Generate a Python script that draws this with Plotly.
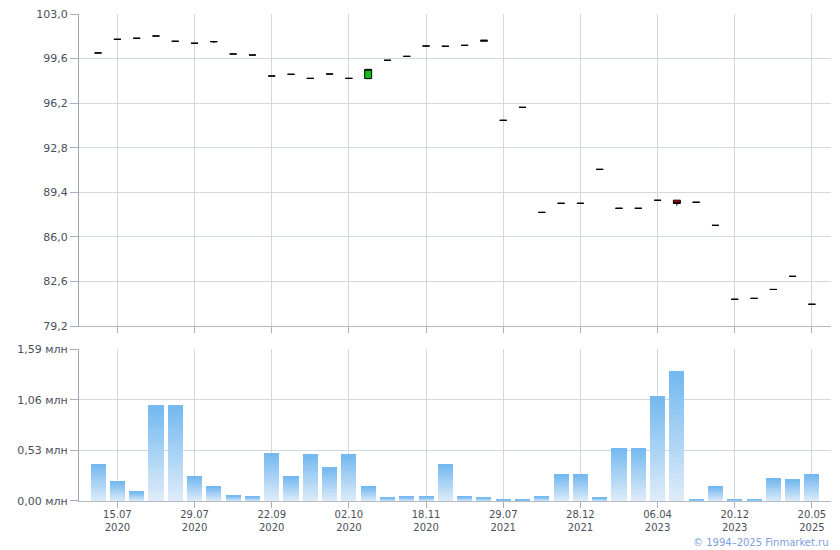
import plotly.graph_objects as go

# ---- data ----
dates = ["08.07<br>2020", "15.07<br>2020", "17.07<br>2020", "21.07<br>2020", "23.07<br>2020",
         "29.07<br>2020", "05.08<br>2020", "19.08<br>2020", "02.09<br>2020", "22.09<br>2020",
         "24.09<br>2020", "28.09<br>2020", "30.09<br>2020", "02.10<br>2020", "09.10<br>2020",
         "21.10<br>2020", "03.11<br>2020", "18.11<br>2020", "02.12<br>2020", "28.12<br>2020",
         "15.03<br>2021", "29.07<br>2021", "13.09<br>2021", "18.10<br>2021", "19.11<br>2021",
         "28.12<br>2021", "14.03<br>2022", "18.10<br>2022", "20.01<br>2023", "06.04<br>2023",
         "19.05<br>2023", "11.07<br>2023", "25.10<br>2023", "20.12<br>2023", "07.03<br>2024",
         "10.09<br>2024", "18.02<br>2025", "20.05<br>2025"]

open_ = [100.03, 101.07, 101.15, 101.32, 100.92, 100.77, 100.89, 99.95, 99.87, 98.27,
         98.40, 98.09, 98.42, 98.09, 98.07, 99.47, 99.77, 100.56, 100.54, 100.61,
         100.92, 94.89, 95.88, 87.87, 88.56, 88.56, 91.15, 88.18, 88.18, 88.79,
         88.80, 88.64, 86.88, 81.24, 81.31, 81.99, 82.99, 80.86]
high_ = [100.03, 101.07, 101.15, 101.32, 100.92, 100.77, 100.89, 99.95, 99.87, 98.27,
         98.40, 98.09, 98.42, 98.09, 98.78, 99.47, 99.77, 100.56, 100.54, 100.61,
         101.00, 94.89, 95.88, 87.87, 88.56, 88.56, 91.15, 88.18, 88.18, 88.79,
         88.80, 88.64, 86.88, 81.24, 81.31, 81.99, 82.99, 80.86]
low_ = [100.03, 101.07, 101.15, 101.32, 100.92, 100.77, 100.78, 99.95, 99.87, 98.27,
        98.40, 98.09, 98.42, 98.09, 98.07, 99.47, 99.77, 100.56, 100.54, 100.61,
        100.92, 94.89, 95.88, 87.87, 88.56, 88.56, 91.15, 88.18, 88.18, 88.79,
        88.38, 88.64, 86.88, 81.24, 81.31, 81.99, 82.99, 80.86]
close_ = [100.03, 101.07, 101.15, 101.32, 100.92, 100.77, 100.89, 99.95, 99.87, 98.27,
          98.40, 98.09, 98.42, 98.09, 98.78, 99.47, 99.77, 100.56, 100.54, 100.61,
          101.00, 94.89, 95.88, 87.87, 88.56, 88.56, 91.15, 88.18, 88.18, 88.79,
          88.55, 88.64, 86.88, 81.24, 81.31, 81.99, 82.99, 80.86]

volume_mln = [0.389, 0.201, 0.097, 1.005, 1.005, 0.254, 0.149, 0.055, 0.045, 0.504,
              0.254, 0.49, 0.35, 0.49, 0.15, 0.035, 0.045, 0.045, 0.39, 0.045,
              0.035, 0.013, 0.013, 0.045, 0.274, 0.274, 0.034, 0.556, 0.556, 1.10,
              1.36, 0.014, 0.149, 0.014, 0.014, 0.233, 0.222, 0.274]

price_ticks = [79.2, 82.6, 86.0, 89.4, 92.8, 96.2, 99.6, 103.0]
price_tick_text = ["79,2", "82,6", "86,0", "89,4", "92,8", "96,2", "99,6", "103,0"]
volume_ticks = [0.0, 0.53, 1.06, 1.59]
volume_tick_text = ["0,00 млн", "0,53 млн", "1,06 млн", "1,59 млн"]
label_idx = [1, 5, 9, 13, 17, 21, 25, 29, 33, 37]

# ---- figure ----
x = list(range(len(dates)))
fig = go.Figure()

fig.add_trace(go.Candlestick(
    x=x, open=open_, high=high_, low=low_, close=close_,
    xaxis="x", yaxis="y",
    increasing=dict(fillcolor="#10C010", line=dict(color="#000000", width=1)),
    decreasing=dict(fillcolor="#D00000", line=dict(color="#000000", width=1)),
    whiskerwidth=0, showlegend=False, hoverinfo="skip",
))

# gradient bars via stacked segments
N = 24
top_rgb = (0x72, 0xB8, 0xEF)
bot_rgb = (0xDF, 0xEC, 0xF9)
for k in range(N):
    t = (k + 0.5) / N
    c = tuple(round(bot_rgb[i] + (top_rgb[i] - bot_rgb[i]) * t) for i in range(3))
    fig.add_trace(go.Bar(
        x=x, y=[v / N for v in volume_mln], xaxis="x2", yaxis="y2",
        marker=dict(color="rgb(%d,%d,%d)" % c, line=dict(width=0)),
        showlegend=False, hoverinfo="skip",
    ))

font = dict(family="DejaVu Sans, Verdana, sans-serif", size=11, color="#4A4F5A")
xfont = dict(family="DejaVu Sans, Verdana, sans-serif", size=10, color="#4A4F5A")
grid = "#D3D8DD"
xr = [-0.99, 37.99]

fig.update_layout(
    width=832, height=542,
    margin=dict(l=71, r=9, t=6, b=49, autoexpand=False),
    paper_bgcolor="white", plot_bgcolor="white",
    barmode="stack", bargap=0.22, boxgap=0.64, boxgroupgap=0,
    font=font,
    xaxis=dict(domain=[0, 1], anchor="y", range=xr, tickvals=[x[i] for i in label_idx],
               showticklabels=False, ticks="outside", ticklen=6, tickcolor="#A9AEB8",
               showgrid=True, gridcolor=grid, showline=True, linecolor="#B4B9C2",
               zeroline=False, rangeslider=dict(visible=False), fixedrange=True,
               automargin=False),
    yaxis=dict(domain=[0.3593, 1], anchor="x", range=[79.2, 103.0], tickvals=price_ticks,
               ticktext=price_tick_text, ticks="outside", ticklen=8, tickcolor="#A9AEB8",
               showgrid=True, gridcolor=grid, showline=True, linecolor="#A0A6B0",
               zeroline=False, tickfont=font, automargin=False,
               ticklabeloverflow="allow"),
    xaxis2=dict(domain=[0, 1], anchor="y2", range=xr, tickvals=[x[i] for i in label_idx],
                ticktext=[dates[i] for i in label_idx], ticks="outside", ticklen=6,
                tickcolor="#A9AEB8", showgrid=True, gridcolor=grid, showline=True,
                linecolor="#B4B9C2", zeroline=False, tickfont=xfont, automargin=False,
                ticklabelstandoff=-2, ticklabeloverflow="allow"),
    yaxis2=dict(domain=[0, 0.3121], anchor="x2", range=[0, 1.59], tickvals=volume_ticks,
                ticktext=volume_tick_text, ticks="outside", ticklen=8,
                tickcolor="#A9AEB8", showgrid=True, gridcolor=grid, showline=True,
                linecolor="#A0A6B0", zeroline=False, tickfont=font, automargin=False,
                ticklabeloverflow="allow"),
    annotations=[dict(text="© 1994–2025 Finmarket.ru", xref="paper", yref="paper",
                      x=1.0, y=-0.0842, xanchor="right", yanchor="middle", showarrow=False,
                      font=dict(family="DejaVu Sans, Verdana, sans-serif", size=10,
                                color="#7EA0DF"))],
)

fig.write_html("out.html")
